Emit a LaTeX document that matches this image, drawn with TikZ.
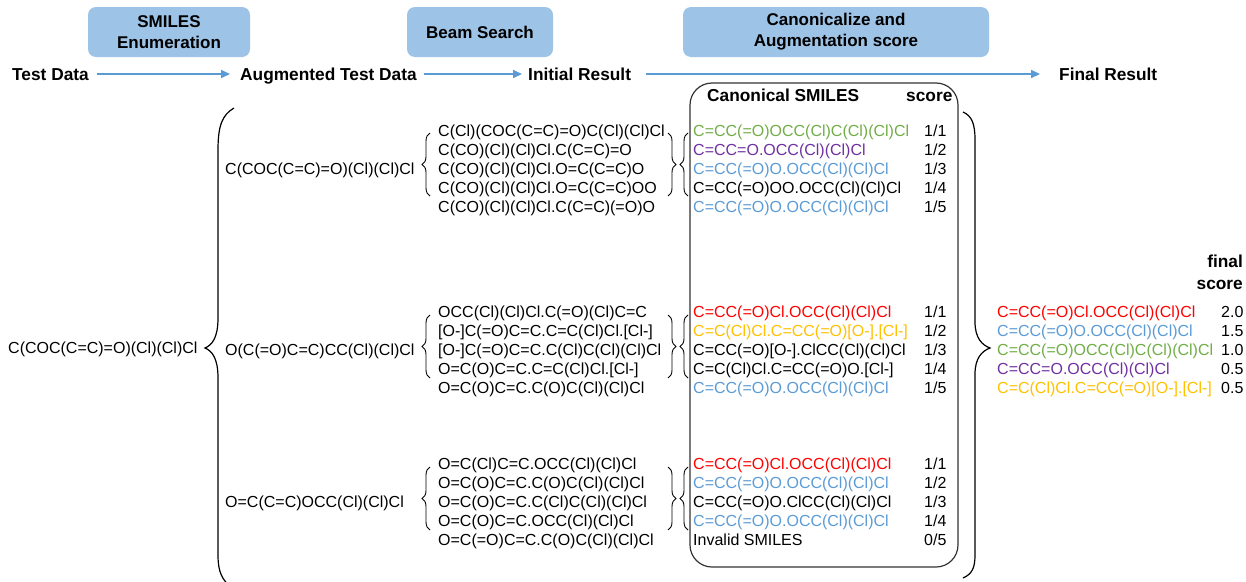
\documentclass[tikz,border=0pt]{standalone}
\usepackage{fontspec}
\setmainfont{Liberation Sans}
\usetikzlibrary{decorations.pathreplacing,arrows.meta}
\definecolor{hdr}{HTML}{9DC3E6}
\definecolor{arr}{HTML}{5B9BD5}
\definecolor{cred}{HTML}{FF0000}
\definecolor{cyel}{HTML}{FFC000}
\definecolor{cgrn}{HTML}{70AD47}
\definecolor{cpur}{HTML}{7030A0}
\definecolor{cblu}{HTML}{5B9BD5}
\newcommand{\Rd}[1]{\textcolor{cred}{#1}}
\newcommand{\Yl}[1]{\textcolor{cyel}{#1}}
\newcommand{\Gn}[1]{\textcolor{cgrn}{#1}}
\newcommand{\Pu}[1]{\textcolor{cpur}{#1}}
\newcommand{\Bl}[1]{\textcolor{cblu}{#1}}
\begin{document}
\begin{tikzpicture}[x=1pt,y=-1pt,
  hbox/.style={fill=hdr, rounded corners=8pt, align=center, inner sep=0pt,
    font=\fontsize{17}{21}\selectfont\bfseries},
  lbl/.style={font=\fontsize{17.3}{20}\selectfont\bfseries, inner sep=0pt,
    text height=12pt, text depth=0pt},
  smi/.style={font=\fontsize{16}{19}\selectfont, inner sep=0pt, align=left, anchor=base west},
  hd/.style={font=\fontsize{17.3}{22}\selectfont\bfseries, inner sep=0pt},
  flow/.style={draw=arr, line width=2pt, -{Triangle[length=9pt,width=8pt]}},
  sbrace/.style={decorate, decoration={brace, amplitude=8pt}, line width=0.9pt},
  bigbrace/.style={line width=1.2pt}
]
\useasboundingbox (0,0) rectangle (1246,581);

% header boxes
\node[hbox, minimum width=162pt, minimum height=50pt] (h1) at (169,32) {SMILES\\Enumeration};
\node[hbox, minimum width=146pt, minimum height=50pt] (h2) at (480,32) {Beam Search};
\node[hbox, minimum width=306pt, minimum height=50pt] (h3) at (836,32) {Canonicalize and\\Augmentation score};

% flow labels
\node[lbl, anchor=base west] (td) at (12,80) {Test Data};
\node[lbl, anchor=base west] (aug) at (240,80) {Augmented Test Data};
\node[lbl, anchor=base west] (ini) at (528,80) {Initial Result};
\node[lbl, anchor=base west] (fin) at (1059,80) {Final Result};
\draw[flow, shorten <=8pt, shorten >=10pt] (td) -- (aug);
\draw[flow, shorten <=7pt, shorten >=6pt] (aug) -- (ini);
\draw[flow, shorten <=15pt, shorten >=19pt] (ini) -- (fin);

% canonical box
\node[draw=black!80, line width=1.2pt, rounded corners=22pt, minimum width=268pt, minimum height=484pt, inner sep=0pt] (cbox) at (824,325) {};
\node[hd, anchor=base west] (canh) at (707,101) {Canonical SMILES};
\node[hd, anchor=base west] (sch) at (906,101) {score};

% original test data
\node[smi] (orig) at (8,353) {C(COC(C=C)=O)(Cl)(Cl)Cl};

% big left brace
\draw[bigbrace] (234,108) .. controls (222,115) and (218,126) .. (218,150) -- (218,318)
  .. controls (218,338) and (212,345) .. (205,348)
  .. controls (212,351) and (218,358) .. (218,378) -- (218,555)
  .. controls (218,572) and (222,580) .. (232,588);

% augmented test data
\node[smi] (a1) at (225,174) {C(COC(C=C)=O)(Cl)(Cl)Cl};
\node[smi] (a2) at (225,355) {O(C(=O)C=C)CC(Cl)(Cl)Cl};
\node[smi] (a3) at (225,507) {O=C(C=C)OCC(Cl)(Cl)Cl};

% beam search lists (anchor = baseline of last line)
\node[smi] (b1) at (438,212) {C(Cl)(COC(C=C)=O)C(Cl)(Cl)Cl\\C(CO)(Cl)(Cl)Cl.C(C=C)=O\\C(CO)(Cl)(Cl)Cl.O=C(C=C)O\\C(CO)(Cl)(Cl)Cl.O=C(C=C)OO\\C(CO)(Cl)(Cl)Cl.C(C=C)(=O)O};
\node[smi] (b2) at (438,393) {OCC(Cl)(Cl)Cl.C(=O)(Cl)C=C\\{[O-]C(=O)C=C.C=C(Cl)Cl.[Cl-]}\\{[O-]C(=O)C=C.C(Cl)C(Cl)(Cl)Cl}\\O=C(O)C=C.C=C(Cl)Cl.[Cl-]\\O=C(O)C=C.C(O)C(Cl)(Cl)Cl};
\node[smi] (b3) at (438,545) {O=C(Cl)C=C.OCC(Cl)(Cl)Cl\\O=C(O)C=C.C(O)C(Cl)(Cl)Cl\\O=C(O)C=C.C(Cl)C(Cl)(Cl)Cl\\O=C(O)C=C.OCC(Cl)(Cl)Cl\\O=C(=O)C=C.C(O)C(Cl)(Cl)Cl};

% small braces
\draw[sbrace] (430,196) -- (430,133);
\draw[sbrace] (668,133) -- (668,196);
\draw[sbrace] (688,196) -- (688,133);
\draw[sbrace] (430,378) -- (430,315);
\draw[sbrace] (668,315) -- (668,378);
\draw[sbrace] (688,378) -- (688,315);
\draw[sbrace] (430,530) -- (430,467);
\draw[sbrace] (668,467) -- (668,530);
\draw[sbrace] (688,530) -- (688,467);

% canonical lists
\node[smi] (c1) at (693,212) {\Gn{C=CC(=O)OCC(Cl)C(Cl)(Cl)Cl}\\\Pu{C=CC=O.OCC(Cl)(Cl)Cl}\\\Bl{C=CC(=O)O.OCC(Cl)(Cl)Cl}\\C=CC(=O)OO.OCC(Cl)(Cl)Cl\\\Bl{C=CC(=O)O.OCC(Cl)(Cl)Cl}};
\node[smi] (s1) at (924,212) {1/1\\1/2\\1/3\\1/4\\1/5};
\node[smi] (c2) at (693,393) {\Rd{C=CC(=O)Cl.OCC(Cl)(Cl)Cl}\\\Yl{C=C(Cl)Cl.C=CC(=O)[O-].[Cl-]}\\{C=CC(=O)[O-].ClCC(Cl)(Cl)Cl}\\{C=C(Cl)Cl.C=CC(=O)O.[Cl-]}\\\Bl{C=CC(=O)O.OCC(Cl)(Cl)Cl}};
\node[smi] (s2) at (924,393) {1/1\\1/2\\1/3\\1/4\\1/5};
\node[smi] (c3) at (693,545) {\Rd{C=CC(=O)Cl.OCC(Cl)(Cl)Cl}\\\Bl{C=CC(=O)O.OCC(Cl)(Cl)Cl}\\C=CC(=O)O.ClCC(Cl)(Cl)Cl\\\Bl{C=CC(=O)O.OCC(Cl)(Cl)Cl}\\Invalid SMILES};
\node[smi] (s3) at (924,545) {1/1\\1/2\\1/3\\1/4\\0/5};

% big right brace
\draw[bigbrace] (963,112) .. controls (972,116) and (975,124) .. (975,140) -- (975,322)
  .. controls (975,338) and (982,345) .. (990,348)
  .. controls (982,351) and (975,358) .. (975,374) -- (975,555)
  .. controls (975,568) and (972,574) .. (963,578);

% final result
\node[hd, align=right, anchor=base east] (fsh) at (1243,289) {final\\score};
\node[smi] (f1) at (997,393) {\Rd{C=CC(=O)Cl.OCC(Cl)(Cl)Cl}\\\Bl{C=CC(=O)O.OCC(Cl)(Cl)Cl}\\\Gn{C=CC(=O)OCC(Cl)C(Cl)(Cl)Cl}\\\Pu{C=CC=O.OCC(Cl)(Cl)Cl}\\\Yl{C=C(Cl)Cl.C=CC(=O)[O-].[Cl-]}};
\node[smi] (fs) at (1221,393) {2.0\\1.5\\1.0\\0.5\\0.5};
\end{tikzpicture}
\end{document}
